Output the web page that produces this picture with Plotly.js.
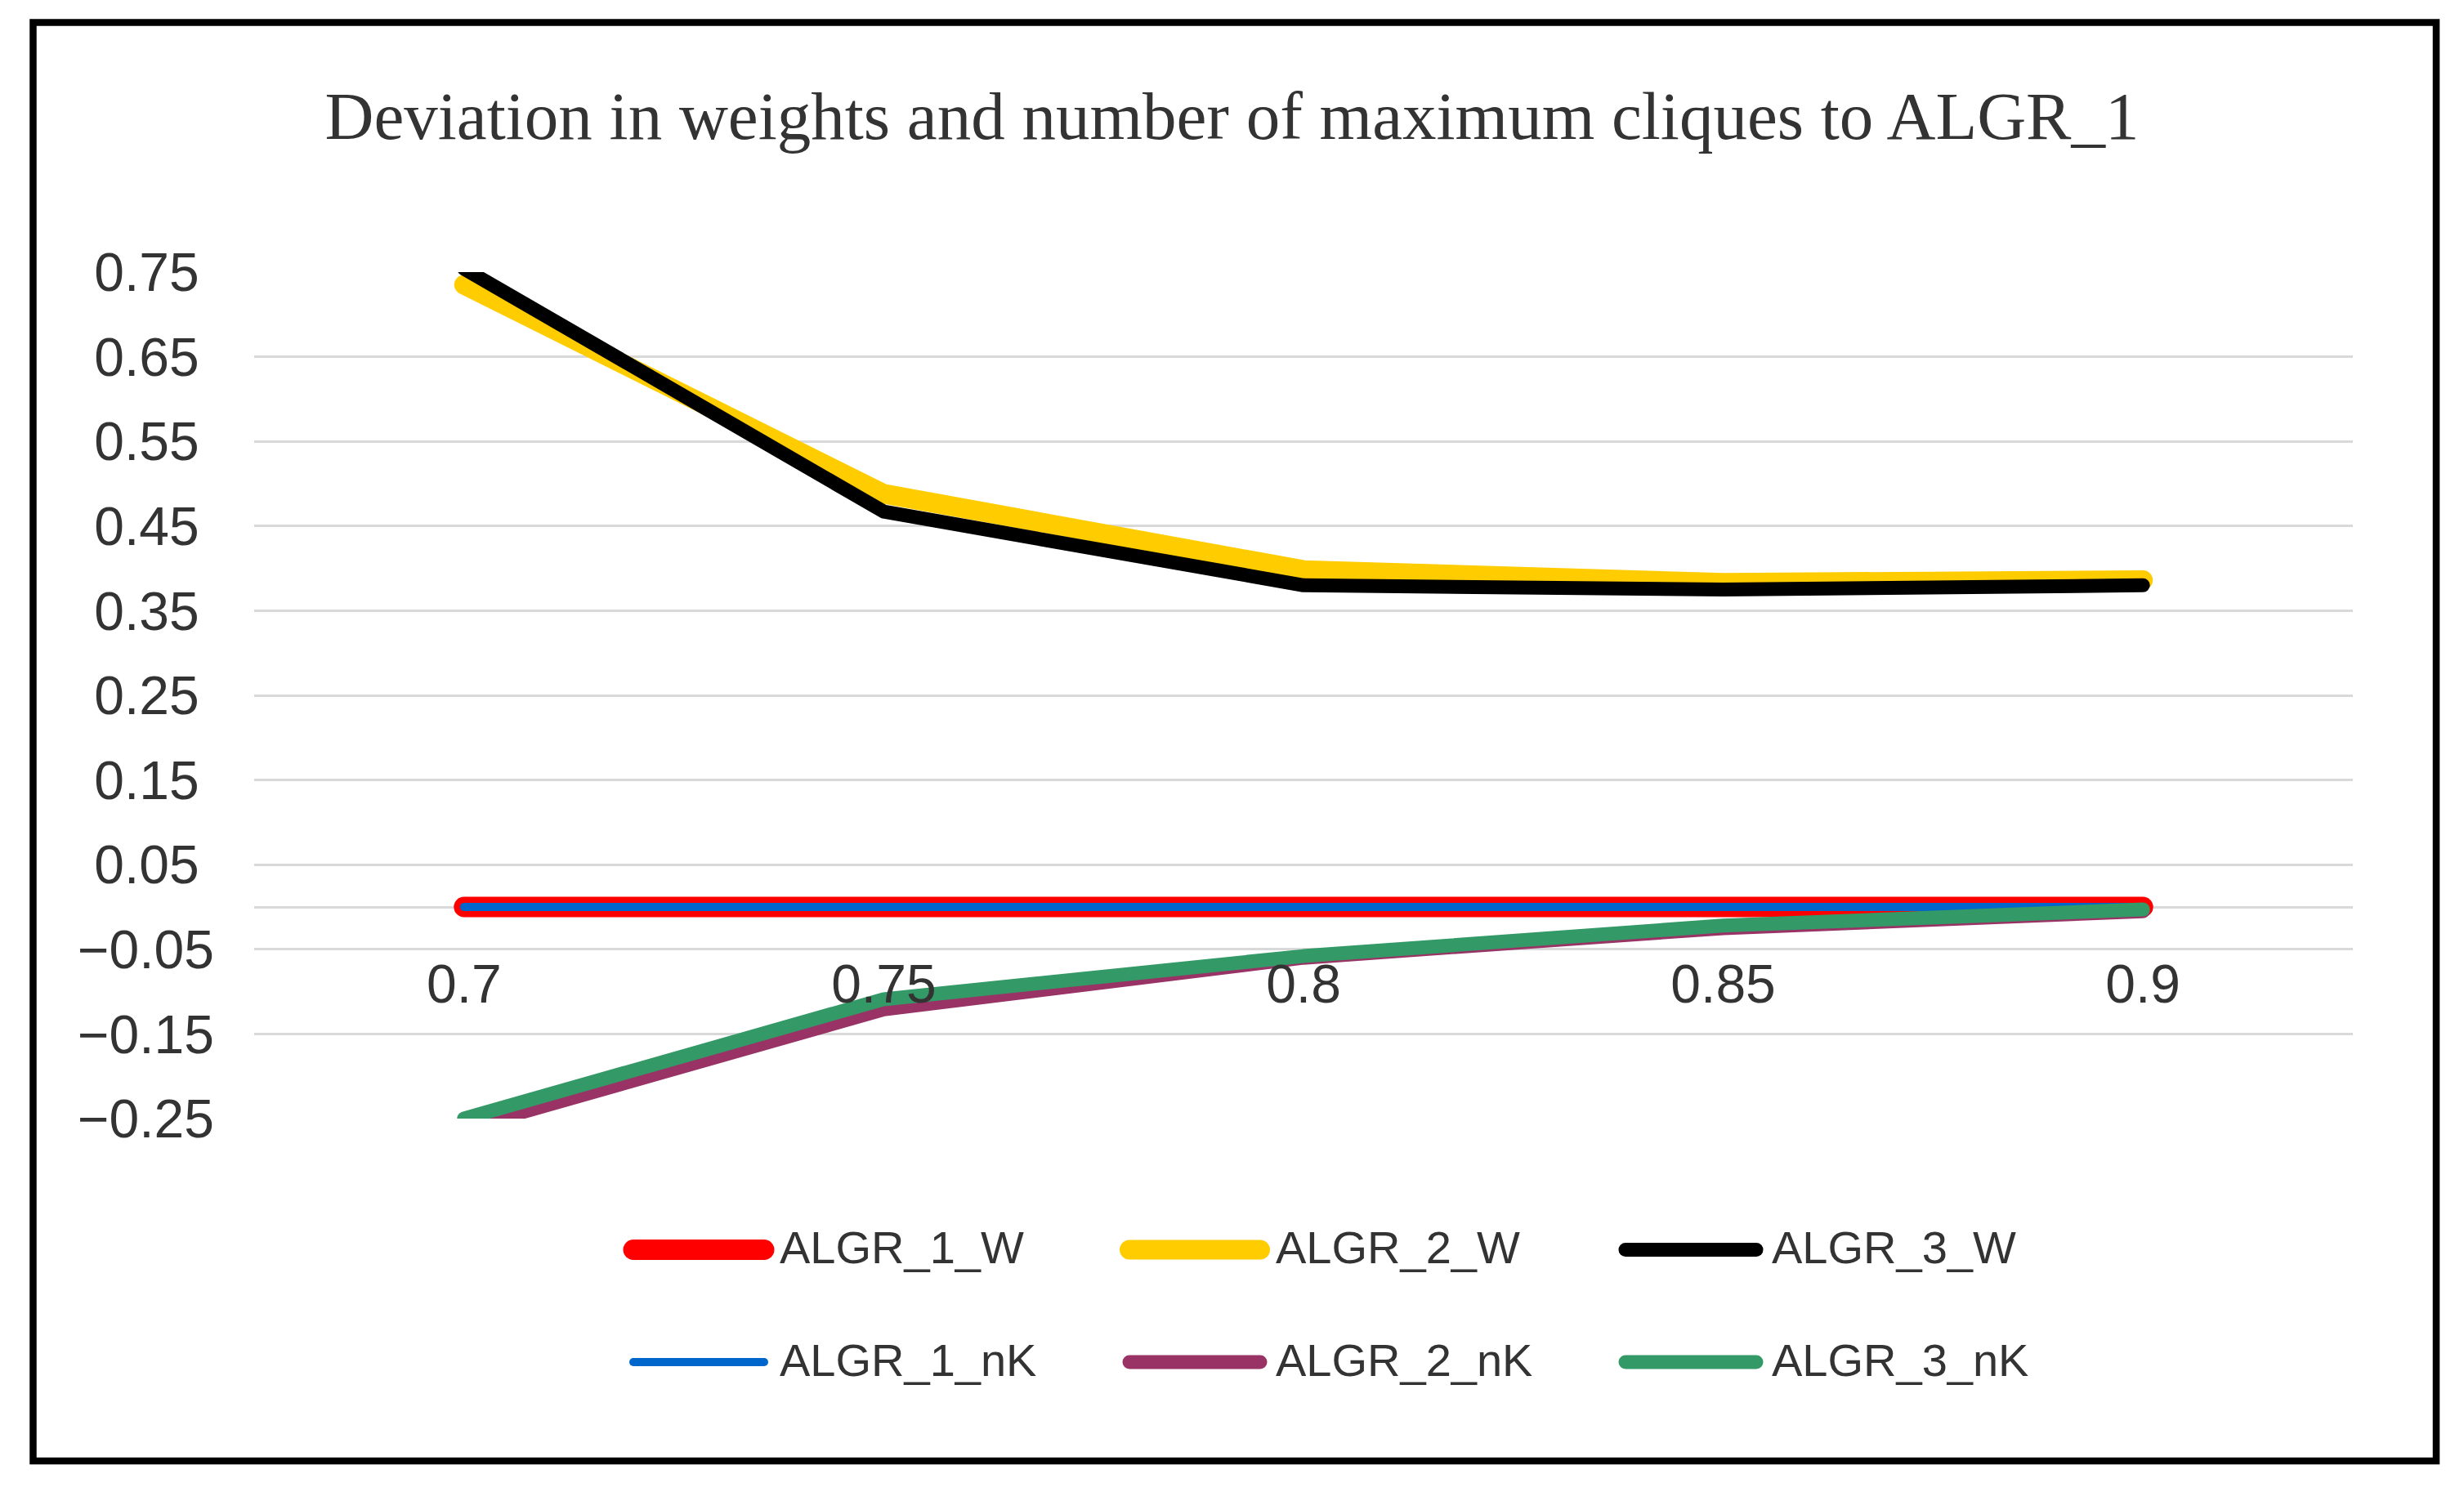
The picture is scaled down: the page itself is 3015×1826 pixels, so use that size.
<!DOCTYPE html>
<html>
<head>
<meta charset="utf-8">
<script src="https://cdn.plot.ly/plotly-3.0.1.min.js"></script>
<style>
  html, body { margin: 0; padding: 0; background: #ffffff; }
  #chart { width: 3015px; height: 1826px; }
  .scatterlayer path.js-line { stroke-linejoin: round !important; stroke-linecap: round !important; }
  .shapelayer path.legend-sample { stroke-linecap: round !important; }
</style>
</head>
<body>
<div id="chart"></div>
<script>
// ---- data ----
const categories = ["0.7", "0.75", "0.8", "0.85", "0.9"];
const seriesNames = ["ALGR_1_W", "ALGR_2_W", "ALGR_3_W", "ALGR_1_nK", "ALGR_2_nK", "ALGR_3_nK"];
const ALGR_1_W  = [0, 0, 0, 0, 0];
const ALGR_2_W  = [0.735, 0.488, 0.398, 0.383, 0.386];
const ALGR_3_W  = [0.754, 0.467, 0.380, 0.375, 0.380];
const ALGR_1_nK = [0, 0, 0, 0, 0];
const ALGR_2_nK = [-0.262, -0.121, -0.060, -0.025, -0.005];
const ALGR_3_nK = [-0.250, -0.109, -0.058, -0.022, -0.003];
const yTickVals = [0.75, 0.65, 0.55, 0.45, 0.35, 0.25, 0.15, 0.05, -0.05, -0.15, -0.25];
const yTickText = ["0.75\u2008", "0.65\u2008", "0.55\u2008", "0.45\u2008", "0.35\u2008", "0.25\u2008", "0.15\u2008", "0.05\u2008", "\u22120.05", "\u22120.15", "\u22120.25"];
const titleText = "Deviation in weights and number of maximum cliques to ALGR_1";

// ---- styles ----
const seriesValues = [ALGR_1_W, ALGR_2_W, ALGR_3_W, ALGR_1_nK, ALGR_2_nK, ALGR_3_nK];
const colors = ["#FF0000", "#FFCC00", "#000000", "#0066CC", "#993366", "#339966"];
const widths = [25, 24, 17, 10, 17, 17];

const W = 3015, H = 1826;
const M = { l: 311, r: 136, t: 333, b: 457 };
const PW = W - M.l - M.r, PH = H - M.t - M.b;
const px = x => (x - M.l) / PW;
const py = y => (H - M.b - y) / PH;

const traces = seriesNames.map((name, i) => ({
  type: "scatter",
  mode: "lines",
  name: name,
  x: categories,
  y: seriesValues[i],
  line: { color: colors[i], width: widths[i] },
  showlegend: false,
  hoverinfo: "skip"
}));

// custom legend (long line samples as in the original)
const legendColX = [775, 1382, 1989];
const legendRowY = [1529.5, 1667];
const sampleLen = 160;
const textGap = 17;
const shapes = [];
const annotations = [];
seriesNames.forEach((name, i) => {
  const col = i % 3, row = Math.floor(i / 3);
  const x0 = legendColX[col], yy = legendRowY[row];
  shapes.push({
    type: "line", xref: "paper", yref: "paper",
    x0: px(x0), x1: px(x0 + sampleLen), y0: py(yy), y1: py(yy),
    line: { color: colors[i], width: widths[i] },
    name: "legend-sample"
  });
  annotations.push({
    xref: "paper", yref: "paper",
    x: px(x0 + sampleLen + textGap), y: py(yy - 3),
    xanchor: "left", yanchor: "middle",
    text: name, showarrow: false,
    font: { family: "Liberation Sans, Arial, sans-serif", size: 56, color: "#333333" }
  });
});

// outer chart border
shapes.push({
  type: "rect", xref: "paper", yref: "paper",
  x0: px(40.5), x1: px(2981), y0: py(27.5), y1: py(1788),
  line: { color: "#000000", width: 8.5 }, fillcolor: "rgba(0,0,0,0)", layer: "above"
});

const layout = {
  width: W, height: H,
  margin: M,
  paper_bgcolor: "#ffffff",
  plot_bgcolor: "#ffffff",
  showlegend: false,
  title: {
    text: titleText,
    xref: "container", yref: "container",
    x: 0.5, xanchor: "center",
    y: (H - 140.5) / H, yanchor: "middle",
    font: { family: "Liberation Serif, Times New Roman, serif", size: 83, color: "#333333" }
  },
  xaxis: {
    type: "category",
    categoryorder: "array",
    categoryarray: categories,
    range: [-0.5, 4.5],
    anchor: "free",
    position: py(1160),
    showgrid: false,
    zeroline: false,
    showline: false,
    ticks: "",
    tickfont: { family: "Liberation Sans, Arial, sans-serif", size: 66, color: "#333333" }
  },
  yaxis: {
    range: [-0.25, 0.75],
    tickmode: "array",
    tickvals: yTickVals,
    ticktext: yTickText,
    showgrid: true,
    gridcolor: "#d9d9d9",
    gridwidth: 3,
    zeroline: true,
    zerolinecolor: "#d9d9d9",
    zerolinewidth: 3,
    showline: false,
    ticks: "",
    ticklabelstandoff: 48,
    tickfont: { family: "Liberation Sans, Arial, sans-serif", size: 66, color: "#333333" }
  },
  shapes: shapes,
  annotations: annotations
};

Plotly.newPlot("chart", traces, layout, { staticPlot: true, displayModeBar: false }).then(() => {
  // round caps for legend samples
  document.querySelectorAll(".shapelayer path").forEach((p, idx) => {
    if (idx < seriesNames.length) p.classList.add("legend-sample");
  });
});
</script>
</body>
</html>
